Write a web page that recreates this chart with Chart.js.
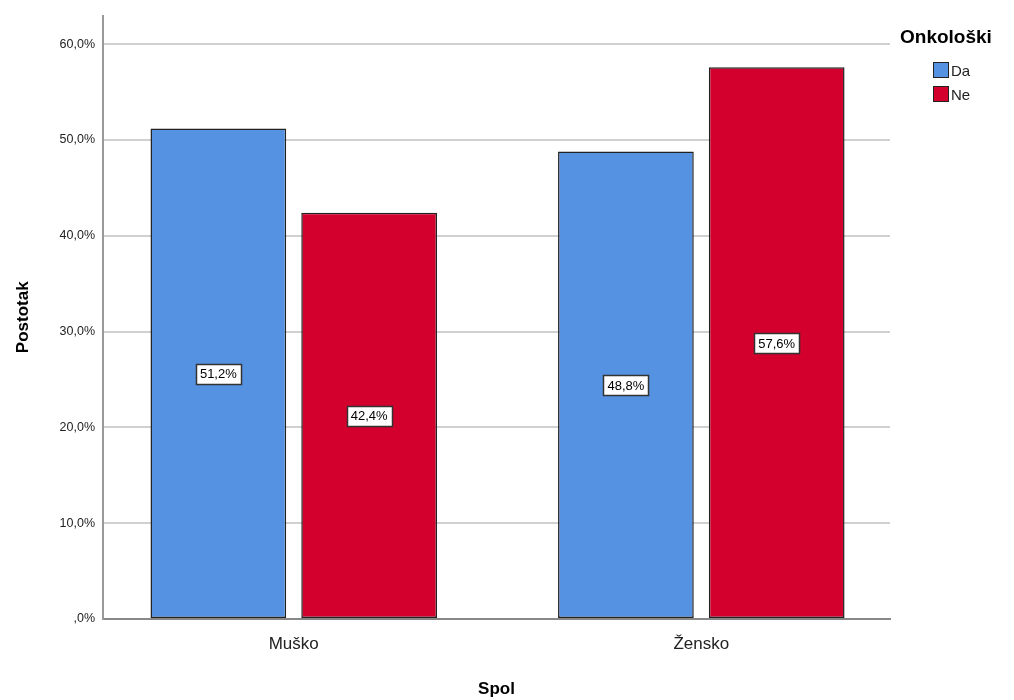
<!DOCTYPE html>
<html>
<head>
<meta charset="utf-8">
<script src="https://cdn.jsdelivr.net/npm/chart.js@4/dist/chart.umd.min.js"></script>
<style>
  html, body { margin: 0; padding: 0; background: #fff; }
  #wrap { position: relative; width: 1014px; height: 700px; }
  #legend { position: absolute; left: 900px; top: 26px; font-family: "Liberation Sans", Arial, sans-serif; color: #000; }
  #legend .title { font-weight: bold; font-size: 19px; margin-bottom: 10px; }
  #legend .item { display: flex; align-items: center; font-size: 15px; margin-left: 33px; height: 24px; color: #222; }
  #legend .sw { width: 16px; height: 16px; border: 1px solid #222; margin-right: 2px; box-sizing: border-box; }
</style>
</head>
<body>
<div id="wrap">
  <canvas id="c" width="1014" height="700"></canvas>
  <div id="legend"></div>
</div>
<script>
const categories = ["Muško", "Žensko"];
const seriesNames = ["Da", "Ne"];
const daValues = [51.2, 48.8];
const neValues = [42.4, 57.6];
const yTicks = [0, 10, 20, 30, 40, 50, 60];
const colors = ["#5592E2", "#D3002D"];

function fmtPct(v) {
  const s = v.toFixed(1).replace('.', ',');
  return (s.startsWith('0,') ? s.substring(1) : s) + '%';
}

const legendEl = document.getElementById('legend');
legendEl.innerHTML = '<div class="title">Onkološki</div>' +
  seriesNames.map((n, i) => '<div class="item"><div class="sw" style="background:' + colors[i] + '"></div>' + n + '</div>').join('');

const labelPlugin = {
  id: 'valueLabels',
  afterDatasetsDraw(chart) {
    const ctx = chart.ctx;
    ctx.save();
    ctx.font = '13px "Liberation Sans", Arial, sans-serif';
    ctx.textAlign = 'center';
    ctx.textBaseline = 'middle';
    chart.data.datasets.forEach((ds, di) => {
      const meta = chart.getDatasetMeta(di);
      meta.data.forEach((bar, i) => {
        const v = ds.data[i].y;
        const text = fmtPct(v);
        const x = bar.x;
        const y = chart.scales.y.getPixelForValue(v / 2);
        const w = Math.round(ctx.measureText(text).width + 8);
        const h = 20;
        const bx = Math.round(x - w / 2) + 0.5, by = Math.round(y - h / 2) + 0.5;
        ctx.fillStyle = '#fff';
        ctx.fillRect(bx, by, w, h);
        ctx.strokeStyle = '#333';
        ctx.lineWidth = 1.5;
        ctx.strokeRect(bx, by, w, h);
        ctx.fillStyle = '#000';
        ctx.fillText(text, x, y + 1);
      });
    });
    ctx.restore();
  }
};

const xMin = -0.468, xMax = 1.463;

new Chart(document.getElementById('c'), {
  type: 'bar',
  data: {
    datasets: [
      { label: seriesNames[0], data: categories.map((c, i) => ({ x: i, y: daValues[i] })), backgroundColor: colors[0], borderColor: '#222', borderWidth: 1.5, borderSkipped: false },
      { label: seriesNames[1], data: categories.map((c, i) => ({ x: i, y: neValues[i] })), backgroundColor: colors[1], borderColor: '#222', borderWidth: 1.5, borderSkipped: false }
    ]
  },
  options: {
    responsive: false,
    animation: false,
    devicePixelRatio: 1,
    categoryPercentage: 0.74,
    barPercentage: 0.90,
    layout: { padding: { top: 13, right: 124, left: 0, bottom: 0 } },
    plugins: { legend: { display: false }, tooltip: { enabled: false } },
    scales: {
      x: {
        type: 'linear',
        min: xMin, max: xMax,
        offset: false,
        afterBuildTicks(scale) { scale.ticks = categories.map((c, i) => ({ value: i })); },
        afterFit(scale) { scale.height = 81; },
        ticks: {
          callback: (v) => categories[v] ?? '',
          font: { size: 17, family: '"Liberation Sans", Arial, sans-serif' },
          color: '#222',
          padding: 15,
          autoSkip: false,
          maxRotation: 0
        },
        grid: { display: false, drawTicks: false },
        border: { display: true, color: '#888', width: 2 },
        title: {
          display: true, text: 'Spol',
          font: { size: 17, weight: 'bold', family: '"Liberation Sans", Arial, sans-serif' },
          color: '#000',
          padding: { top: 0, bottom: 0 }
        }
      },
      y: {
        min: 0, max: 63,
        afterBuildTicks(scale) { scale.ticks = yTicks.map(v => ({ value: v })); },
        afterFit(scale) { scale.width = 103; },
        ticks: {
          callback: (v) => fmtPct(v),
          font: { size: 12.5, family: '"Liberation Sans", Arial, sans-serif' },
          color: '#222',
          padding: 8
        },
        grid: { color: '#d0d0d0', lineWidth: 2, drawTicks: false },
        border: { display: true, color: '#999', width: 2 },
        title: {
          display: true, text: 'Postotak',
          font: { size: 17, weight: 'bold', family: '"Liberation Sans", Arial, sans-serif' },
          color: '#000',
          padding: { top: 13, bottom: 0 }
        }
      }
    }
  },
  plugins: [labelPlugin]
});
</script>
</body>
</html>
